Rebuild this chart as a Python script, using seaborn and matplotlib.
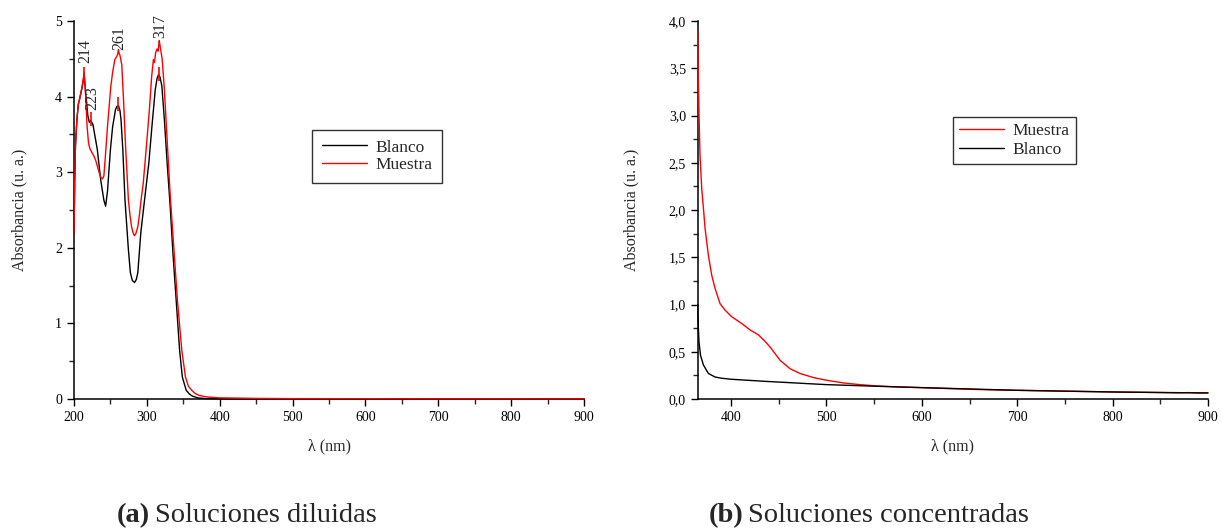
import matplotlib
matplotlib.use("Agg")
import matplotlib.pyplot as plt
import seaborn as sns
from matplotlib.ticker import MultipleLocator, FixedLocator, FixedFormatter

# (a) Soluciones diluidas
blanco_a_wl = [200, 201, 202, 204, 206, 208, 211, 214, 216, 219, 221, 223, 226, 228, 232, 236.6,
               241, 243.4, 246, 248, 250, 253, 257, 259, 261, 263, 264.5, 267, 270, 274.7, 277.4, 280,
               283, 285.5, 287.6, 291.7, 296.8, 302.7, 307, 311.5, 314, 316, 318, 320.6, 324, 328, 332, 336,
               340.3, 345, 348.7, 354, 358, 362, 370, 380, 400, 500, 900]
blanco_a_abs = [2.2, 2.9, 3.35, 3.7, 3.9, 3.98, 4.12, 4.28, 4.05, 3.75, 3.66, 3.68, 3.63, 3.52, 3.30, 2.9,
                2.63, 2.55, 2.75, 3.03, 3.3, 3.6, 3.83, 3.87, 3.88, 3.82, 3.7, 3.3, 2.63, 1.97, 1.67, 1.57,
                1.54, 1.58, 1.67, 2.2, 2.63, 3.12, 3.61, 4.09, 4.24, 4.29, 4.26, 4.14, 3.7, 3.1, 2.55, 1.9,
                1.30, 0.64, 0.29, 0.115, 0.07, 0.04, 0.015, 0.006, 0.002, 0.001, 0.0]

muestra_a_wl = [200, 201, 202, 204, 206, 208, 211, 214, 216, 218, 220, 222, 224, 227.5, 230, 232,
                235, 237, 239, 241, 243, 246, 250.6, 253, 256, 258, 260, 261, 262, 263, 265.6, 268,
                271, 274.7, 277, 279, 281, 283, 285, 287.6, 290, 292, 295, 299, 303.5, 306.6, 309, 310.5,
                312, 314, 315.5, 317, 318, 319, 321, 324, 328, 332, 337, 342, 348, 353, 357, 361.6,
                366, 371, 378, 385, 400, 450, 500, 700, 900]
muestra_a_abs = [2.2, 2.9, 3.35, 3.7, 3.9, 3.98, 4.12, 4.32, 4.02, 3.6, 3.38, 3.31, 3.27, 3.21, 3.15, 3.08,
                 2.98, 2.93, 2.91, 2.95, 3.2, 3.61, 4.14, 4.32, 4.49, 4.52, 4.56, 4.62, 4.57, 4.55, 4.42, 3.95,
                 3.3, 2.63, 2.42, 2.28, 2.2, 2.16, 2.19, 2.28, 2.45, 2.63, 2.85, 3.3, 3.83, 4.27, 4.49, 4.45,
                 4.58, 4.63, 4.6, 4.74, 4.68, 4.62, 4.5, 4.1, 3.4, 2.7, 2.0, 1.3, 0.64, 0.29, 0.17, 0.115,
                 0.075, 0.05, 0.035, 0.025, 0.015, 0.008, 0.005, 0.003, 0.002]

peak_wl = [214, 223, 261, 317]
peak_abs = [4.30, 3.70, 3.90, 4.30]
peak_label_y = [4.45, 3.82, 4.62, 4.77]
peak_labels = ["214", "223", "261", "317"]

# (b) Soluciones concentradas
muestra_b_wl = [365, 365.7, 366.4, 367.4, 369.2, 371, 372.7, 376.2, 379.7, 383.2, 388.4, 393.7,
                400.7, 411, 420, 428.6, 435.6, 440.9, 451.4, 461.9, 472.3, 486.3, 500.3, 517.8,
                535, 552.9, 570, 588, 620, 660, 700, 750, 800, 850, 870, 880, 890, 900]
muestra_b_abs = [3.90, 3.36, 3.0, 2.58, 2.23, 2.02, 1.81, 1.52, 1.31, 1.17, 1.01, 0.94,
                 0.87, 0.80, 0.73, 0.68, 0.61, 0.55, 0.41, 0.32, 0.27, 0.227, 0.198, 0.17,
                 0.152, 0.138, 0.13, 0.124, 0.113, 0.10, 0.092, 0.083, 0.075, 0.068, 0.065, 0.068, 0.063, 0.066]
blanco_b_wl = [365, 365.7, 366.4, 368, 371, 376.2, 383.2, 390, 400, 435.6, 500, 577, 700, 801, 900]
blanco_b_abs = [1.0, 0.75, 0.60, 0.46, 0.36, 0.27, 0.233, 0.22, 0.209, 0.187, 0.152, 0.127, 0.092, 0.074, 0.064]

yticks_b = [0, 0.5, 1.0, 1.5, 2.0, 2.5, 3.0, 3.5, 4.0]
yticklabels_b = ["0,0", "0,5", "1,0", "1,5", "2,0", "2,5", "3,0", "3,5", "4,0"]

sns.set_style("ticks")
plt.rcParams["font.family"] = ["Liberation Serif", "DejaVu Serif"]

fig = plt.figure(figsize=(12.22, 5.31), dpi=100)
W, H = 1222, 531
ax1 = fig.add_axes([74 / W, 1 - 399 / H, 510 / W, 378 / H])
ax2 = fig.add_axes([697.7 / W, 1 - 399 / H, 510.3 / W, 378 / H])

sns.lineplot(x=blanco_a_wl, y=blanco_a_abs, color="black", linewidth=1, ax=ax1,
             label="Blanco", zorder=3, clip_on=False)
sns.lineplot(x=muestra_a_wl, y=muestra_a_abs, color="red", linewidth=1, ax=ax1,
             label="Muestra", zorder=3, clip_on=False)
ax1.scatter(peak_wl, peak_abs, marker="|", color="red", s=90, linewidths=1.2, zorder=4)
for wl, yl, txt in zip(peak_wl, peak_label_y, peak_labels):
    ax1.text(wl + 1.5, yl, txt, rotation=90, ha="center", va="bottom", fontsize=11.5)

sns.lineplot(x=muestra_b_wl, y=muestra_b_abs, color="red", linewidth=1, ax=ax2,
             label="Muestra", zorder=3, clip_on=False)
sns.lineplot(x=blanco_b_wl, y=blanco_b_abs, color="black", linewidth=1, ax=ax2,
             label="Blanco", zorder=3, clip_on=False)

ax1.set_xlim(200, 900)
ax1.set_ylim(0, 5)
ax1.xaxis.set_major_locator(MultipleLocator(100))
ax1.xaxis.set_minor_locator(MultipleLocator(50))
ax1.yaxis.set_major_locator(MultipleLocator(1))
ax1.yaxis.set_minor_locator(MultipleLocator(0.5))

ax2.set_xlim(365, 900)
ax2.set_ylim(0, 4)
ax2.xaxis.set_major_locator(MultipleLocator(100))
ax2.xaxis.set_minor_locator(MultipleLocator(50))
ax2.yaxis.set_major_locator(FixedLocator(yticks_b))
ax2.yaxis.set_major_formatter(FixedFormatter(yticklabels_b))
ax2.yaxis.set_minor_locator(MultipleLocator(0.25))

for ax, ycoord in ((ax1, -0.092), (ax2, -0.115)):
    sns.despine(ax=ax)
    for s in ("left", "bottom"):
        ax.spines[s].set_linewidth(1.1)
        ax.spines[s].set_color("black")
    ax.tick_params(which="major", direction="out", length=5, width=1, labelsize=10, colors="black")
    ax.tick_params(which="minor", direction="out", length=3.5, width=1)
    ax.set_xlabel("λ (nm)", fontsize=11.5)
    ax.set_ylabel("Absorbancia (u. a.)", fontsize=11.5)
    ax.xaxis.set_label_coords(0.5, -0.105)
    ax.yaxis.set_label_coords(ycoord, 0.5)

leg_kw = dict(loc="upper left", fontsize=12.5, frameon=True, fancybox=False, shadow=False,
              edgecolor="black", handlelength=2.6, handletextpad=0.5, borderaxespad=0)
leg1 = ax1.legend(bbox_to_anchor=(0.467, 0.712), borderpad=0.55, labelspacing=0.1, **leg_kw)
leg2 = ax2.legend(bbox_to_anchor=(0.500, 0.746), borderpad=0.35, labelspacing=0.15, **leg_kw)
for leg in (leg1, leg2):
    leg.get_frame().set_linewidth(1.0)

fig.text(150 / W, 1 - 522 / H, "(a)", fontsize=20.5, fontweight="bold", ha="right", va="baseline")
fig.text(155 / W, 1 - 522 / H, "Soluciones diluidas", fontsize=20.5, ha="left", va="baseline")
fig.text(743 / W, 1 - 522 / H, "(b)", fontsize=20.5, fontweight="bold", ha="right", va="baseline")
fig.text(748 / W, 1 - 522 / H, "Soluciones concentradas", fontsize=20.5, ha="left", va="baseline")

fig.savefig("out.png", dpi=100, facecolor="white")
